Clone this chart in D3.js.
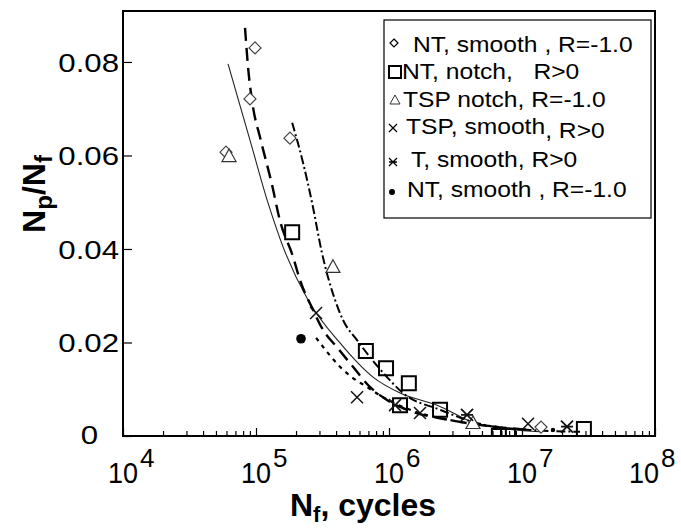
<!DOCTYPE html>
<html lang="en">
<head>
<meta charset="UTF-8">
<title>Np/Nf vs Nf</title>
<script src="https://d3js.org/d3.v7.min.js"></script>
<style>
    body { margin: 0; background: #fff; }
    svg { display: block; font-family: 'Liberation Sans', Arial, sans-serif; }
    .tick line { stroke: #000; stroke-width: 1.2; }
    .domain { display: none; }
</style>
</head>
<body>
<svg id="chart" width="681" height="528"></svg>
<script>
// ---- data (Nf in cycles, Np/Nf) ----
const diamondN = [5.95e4, 9.01e4, 9.83e4, 1.80e5, 1.39e7];
const diamondV = [0.0607, 0.0721, 0.0830, 0.0637, 0.0019];

const squareN = [1.87e5, 6.7e5, 9.5e5, 1.41e6, 1.21e6, 2.42e6, 6.7e6, 7.85e6, 2.92e7];
const squareV = [0.0436, 0.0182, 0.0145, 0.0113, 0.0066, 0.0056, 0.0, 0.0, 0.0015];

const triangleN = [6.27e4, 3.79e5, 4.28e6];
const triangleV = [0.0599, 0.0362, 0.0028];

const crossN = [2.83e5, 5.75e5, 1.11e6, 1.71e6, 1.11e7];
const crossV = [0.0263, 0.0083, 0.0066, 0.0049, 0.0026];

const starN = [3.86e6, 2.18e7];
const starV = [0.0045, 0.0020];

const dotN = [2.18e5, 1.71e7];
const dotV = [0.0208, 0.0013];

// fitted curves, points
const solidN = [6.16e4, 9.01e4, 1.23e5, 1.60e5, 2.46e5, 4.28e5, 7.58e5, 1.21e6, 2.30e6, 4.83e6, 1.37e7];
const solidV = [0.0796, 0.0633, 0.0499, 0.0404, 0.0291, 0.0199, 0.0126, 0.0092, 0.0066, 0.0024, 0.0009];

const dashN = [8.27e4, 8.71e4, 9.49e4, 1.07e5, 1.32e5, 1.51e5, 1.90e5, 2.14e5, 2.68e5, 3.19e5, 4.06e5, 5.36e5, 7.19e5, 9.66e5, 1.37e6, 2.88e6, 5.74e6, 1.15e7];
const dashV = [0.0873, 0.0790, 0.0704, 0.0640, 0.0537, 0.0462, 0.0383, 0.0334, 0.0270, 0.0227, 0.0190, 0.0148, 0.0105, 0.0077, 0.0056, 0.0034, 0.0021, 0.0013];

const dashDotN = [1.87e5, 2.26e5, 2.64e5, 3.13e5, 3.93e5, 4.51e5, 5.75e5, 7.19e5, 9.66e5, 1.27e6, 2.42e6, 4.83e6, 1.15e7, 2.73e7];
const dashDotV = [0.0670, 0.0584, 0.0499, 0.0392, 0.0291, 0.0248, 0.0205, 0.0169, 0.0126, 0.0092, 0.0056, 0.0026, 0.0013, 0.0009];

const dottedN = [2.83e5, 3.42e5, 4.28e5, 5.36e5, 6.83e5, 9.02e5, 1.44e6, 2.88e6, 6.83e6];
const dottedV = [0.0210, 0.0180, 0.0148, 0.0124, 0.0105, 0.0083, 0.0056, 0.0034, 0.0019];

const yTicks = [0, 0.02, 0.04, 0.06, 0.08];
const yTickLabels = ["0", "0.02", "0.04", "0.06", "0.08"];
const xExponents = [4, 5, 6, 7, 8];

const legendLabels = [
    "NT, smooth , R=-1.0",
    "NT, notch,   R>0",
    "TSP notch, R=-1.0",
    "TSP, smooth",
    "T, smooth, R>0",
    "NT, smooth , R=-1.0"
];

// ---- layout ----
const plotLeft = 123, plotRight = 655, plotTop = 11, plotBottom = 436;

const svg = d3.select("#chart");

const x = d3.scaleLog().domain([1e4, 1e8]).range([plotLeft, plotRight]);
const y = d3.scaleLinear().domain([0, 0.0909]).range([plotBottom, plotTop]);

const pts = (N, V) => N.map((n, i) => [n, V[i]]);

svg.append("clipPath").attr("id", "plot-clip")
   .append("rect")
   .attr("x", plotLeft).attr("y", plotTop)
   .attr("width", plotRight - plotLeft).attr("height", plotBottom - plotTop);

// minor ticks on the x axis (inside)
const minorTicks = [];
for (let e = 4; e < 8; e++) {
    for (let m = 2; m <= 9; m++) minorTicks.push(m * Math.pow(10, e));
}

svg.append("g")
   .attr("transform", `translate(0,${plotBottom})`)
   .call(d3.axisBottom(x).tickValues(minorTicks).tickSize(-5).tickFormat(""));

svg.append("g")
   .attr("transform", `translate(0,${plotBottom})`)
   .call(d3.axisBottom(x).tickValues(xExponents.map(e => Math.pow(10, e))).tickSize(-8).tickFormat(""));

svg.append("g")
   .attr("transform", `translate(${plotLeft},0)`)
   .call(d3.axisLeft(y).tickValues(yTicks).tickSize(-9).tickFormat(""));

// x tick labels 10^n (the last one is pulled in so it stays on the page)
xExponents.forEach(e => {
    const cx = x(Math.pow(10, e)) - (e === 8 ? 11 : 0);
    svg.append("text")
       .attr("transform", `translate(${cx},483) scale(0.9,1)`)
       .attr("text-anchor", "middle")
       .style("font-size", "30px")
       .text("10");
    svg.append("text")
       .attr("x", cx + 17)
       .attr("y", 467)
       .style("font-size", "26px")
       .text(e);
});

// y tick labels
yTicks.forEach((t, i) => {
    const ex = t === 0 ? 98 : 119;
    const ey = t === 0 ? 444 : y(t) + 10;
    svg.append("text")
       .attr("transform", `translate(${ex},${ey}) scale(1.2,1)`)
       .attr("text-anchor", "end")
       .style("font-size", "26px")
       .text(yTickLabels[i]);
});

// axis titles
const xTitle = svg.append("text")
   .attr("x", 290).attr("y", 516)
   .style("font-size", "32px").style("font-weight", "bold");
xTitle.append("tspan").text("N");
xTitle.append("tspan").attr("dy", 6).style("font-size", "22px").text("f");
xTitle.append("tspan").attr("dy", -6).text(", cycles");

const yTitle = svg.append("text")
   .attr("transform", "translate(45,194) rotate(-90)")
   .attr("text-anchor", "middle")
   .style("font-size", "32px").style("font-weight", "bold");
yTitle.append("tspan").text("N");
yTitle.append("tspan").attr("dy", 7).style("font-size", "24px").text("p");
yTitle.append("tspan").attr("dy", -7).text("/N");
yTitle.append("tspan").attr("dy", 7).style("font-size", "24px").text("f");

// ---- curves ----
const line = d3.line()
   .x(d => x(d[0]))
   .y(d => y(d[1]))
   .curve(d3.curveMonotoneX);

const plot = svg.append("g").attr("clip-path", "url(#plot-clip)");

plot.append("path").datum(pts(solidN, solidV))
    .attr("d", line).attr("fill", "none")
    .attr("stroke", "#222").attr("stroke-width", 1.1);

plot.append("path").datum(pts(dashN, dashV))
    .attr("d", line).attr("fill", "none")
    .attr("stroke", "#000").attr("stroke-width", 2.4)
    .attr("stroke-dasharray", "13,7");

plot.append("path").datum(pts(dashDotN, dashDotV))
    .attr("d", line).attr("fill", "none")
    .attr("stroke", "#000").attr("stroke-width", 2)
    .attr("stroke-dasharray", "9,3,2,3");

plot.append("path").datum(pts(dottedN, dottedV))
    .attr("d", line).attr("fill", "none")
    .attr("stroke", "#000").attr("stroke-width", 2.2)
    .attr("stroke-dasharray", "4,5");

// ---- markers ----
function diamondPath(s) { return `M0,${-s}L${s},0L0,${s}L${-s},0Z`; }
function squarePath(s) { return `M${-s},${-s}H${s}V${s}H${-s}Z`; }
function trianglePath(s) { return `M0,${-s}L${s},${s * 0.8}H${-s}Z`; }
function crossPath(s) { return `M${-s},${-s}L${s},${s}M${s},${-s}L${-s},${s}`; }
function starPath(s) { return `M${-s},${-s}L${s},${s}M${s},${-s}L${-s},${s}M${-s},0H${s}`; }

function drawMarkers(g, N, V, path, stroke, width, fill) {
    g.selectAll(null)
     .data(pts(N, V))
     .enter()
     .append("path")
     .attr("transform", d => `translate(${x(d[0])},${y(d[1])})`)
     .attr("d", path)
     .attr("fill", fill || "none")
     .attr("stroke", stroke)
     .attr("stroke-width", width);
}

drawMarkers(plot, diamondN, diamondV, diamondPath(6), "#444", 1.2, "#fff");
drawMarkers(plot, triangleN, triangleV, trianglePath(7), "#333", 1.2, "#fff");
drawMarkers(plot, squareN, squareV, squarePath(7), "#000", 2, "none");
drawMarkers(plot, crossN, crossV, crossPath(6), "#111", 1.5);
drawMarkers(plot, starN, starV, starPath(6), "#111", 1.8);
plot.selectAll(null)
    .data(pts(dotN, dotV))
    .enter()
    .append("circle")
    .attr("cx", d => x(d[0]))
    .attr("cy", d => y(d[1]))
    .attr("r", (d, i) => i === 0 ? 4.8 : 2.2)
    .attr("fill", "#000");

// ---- legend ----
const lg = svg.append("g");
lg.append("rect")
  .attr("x", 384).attr("y", 20)
  .attr("width", 267).attr("height", 198)
  .attr("fill", "#fff").attr("stroke", "#000").attr("stroke-width", 1.2);

const rowY = [52, 79, 107, 134, 167, 197];
const rowX = [413, 402, 403, 406, 411, 407];
const symY = [43, 72, 100, 128, 162, 192];

lg.append("path").attr("transform", `translate(394,${symY[0]})`).attr("d", diamondPath(4))
  .attr("fill", "none").attr("stroke", "#000").attr("stroke-width", 1.2);
lg.append("path").attr("transform", `translate(395,${symY[1]})`).attr("d", squarePath(6))
  .attr("fill", "none").attr("stroke", "#000").attr("stroke-width", 2);
lg.append("path").attr("transform", `translate(395,${symY[2]})`).attr("d", trianglePath(5))
  .attr("fill", "none").attr("stroke", "#333").attr("stroke-width", 1);
lg.append("path").attr("transform", `translate(393,${symY[3]})`).attr("d", crossPath(4))
  .attr("fill", "none").attr("stroke", "#000").attr("stroke-width", 1.3);
lg.append("path").attr("transform", `translate(393,${symY[4]})`).attr("d", starPath(4))
  .attr("fill", "none").attr("stroke", "#000").attr("stroke-width", 1.3);
lg.append("circle").attr("cx", 392).attr("cy", symY[5]).attr("r", 3).attr("fill", "#000");

legendLabels.forEach((label, i) => {
    const t = lg.append("text")
       .attr("transform", `translate(${rowX[i]},${rowY[i]}) scale(1.12,1)`)
       .attr("xml:space", "preserve")
       .style("white-space", "pre")
       .style("font-size", "22px")
       .text(label);
    if (i === 3) {
        t.append("tspan").attr("dy", 4).text(", R>0");
    }
});

// frame
svg.append("rect")
   .attr("x", plotLeft).attr("y", plotTop)
   .attr("width", plotRight - plotLeft).attr("height", plotBottom - plotTop)
   .attr("fill", "none").attr("stroke", "#000").attr("stroke-width", 2);
</script>
</body>
</html>
